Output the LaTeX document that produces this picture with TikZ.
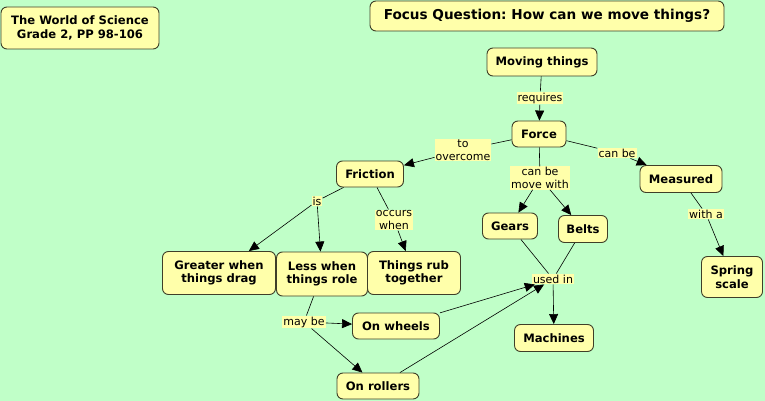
\documentclass[tikz,border=0pt]{standalone}
\usepackage{fontspec}
\setmainfont{DejaVu Sans}
\usetikzlibrary{arrows.meta}
\definecolor{MapGreen} {HTML}{C0FFC8}
\definecolor{MapYellow}{HTML}{FFFFAA}
\definecolor{MapEdge}  {HTML}{3F3F28}
\frenchspacing

\begin{document}
\begin{tikzpicture}[x=1pt,y=-1pt,
  concept/.style={draw=MapEdge,fill=MapYellow,rounded corners=6pt,
    line width=0.9pt,align=center,inner sep=0pt,
    font=\bfseries\fontsize{11.6}{13.5}\selectfont},
  boxsize/.style 2 args={minimum width=#1pt,minimum height=#2pt},
  linkword/.style={fill=MapYellow,inner sep=1pt,align=center,
    font=\fontsize{11}{12.5}\selectfont},
  link/.style={draw=black,line width=0.6pt},
  linkarrow/.style={link,-{Triangle[length=10pt,width=9pt]}}]
  % Background
  \fill[MapGreen] (0,0) rectangle (765,401);
  \useasboundingbox (0,0) rectangle (765,401);
  % Header boxes
  \node[concept,boxsize={158}{42}] (world) at (80,28)
    {The World of Science\\Grade 2, PP 98-106};
  \node[concept,boxsize={354}{30},
    font=\bfseries\fontsize{13.6}{15}\selectfont] (focus) at (547,16)
    {Focus Question: How can we move things?};
  % Concepts
  \node[concept,boxsize={110}{28}] (moving) at (542,62) {Moving things};
  \node[concept,boxsize={54}{26}] (force) at (539,134) {Force};
  \node[concept,boxsize={67}{26}] (friction) at (370,174) {Friction};
  \node[concept,boxsize={82}{27}] (measured) at (681,179) {Measured};
  \node[concept,boxsize={61}{41}] (spring) at (732,277) {Spring\\scale};
  \node[concept,boxsize={113}{43}] (greater) at (219,273)
    {Greater when\\things drag};
  \node[concept,boxsize={91}{44}] (less) at (322,274)
    {Less when\\things role};
  \node[concept,boxsize={93}{43}] (rub) at (414,273)
    {Things rub\\together};
  \node[concept,boxsize={55}{26}] (gears) at (510,226) {Gears};
  \node[concept,boxsize={49}{27}] (belts) at (583,229) {Belts};
  \node[concept,boxsize={79}{27}] (machines) at (554,338) {Machines};
  \node[concept,boxsize={87}{26}] (wheels) at (396,326) {On wheels};
  \node[concept,boxsize={82}{26}] (rollers) at (378,386) {On rollers};
  % Linking phrases
  \node[linkword] (requires) at (540,98) {requires};
  \node[linkword] (overcome) at (463,150) {to\\overcome};
  \node[linkword] (canbe) at (617,153) {can be};
  \node[linkword] (movewith) at (540,178) {can be\\move with};
  \node[linkword] (witha) at (706,214) {with a};
  \node[linkword] (is) at (317,201) {is};
  \node[linkword] (occurs) at (394,220) {occurs\\when};
  \node[linkword] (usedin) at (553,279) {used in};
  \node[linkword] (maybe) at (304,322) {may be};
  % Connectors
  \draw[link] (moving) -- (requires);
  \draw[linkarrow] (requires) -- (force);
  \draw[link] (force) -- (overcome);
  \draw[linkarrow] (overcome) -- (friction);
  \draw[link] (force) -- (canbe);
  \draw[linkarrow] (canbe) -- (measured);
  \draw[link] (force) -- (movewith);
  \draw[linkarrow] (movewith) -- (gears);
  \draw[linkarrow] (movewith) -- (belts);
  \draw[link] (measured) -- (witha);
  \draw[linkarrow] (witha) -- (spring);
  \draw[link] (friction) -- (is);
  \draw[linkarrow] (is) -- (greater);
  \draw[linkarrow] (is) -- (less);
  \draw[link] (friction) -- (occurs);
  \draw[linkarrow] (occurs) -- (rub);
  \draw[link] (gears) -- (usedin);
  \draw[link] (belts) -- (usedin);
  \draw[linkarrow] (usedin) -- (machines);
  \draw[linkarrow] (wheels) -- (usedin);
  \draw[linkarrow] (rollers) -- (usedin);
  \draw[link] (less) -- (maybe);
  \draw[linkarrow] (maybe) -- (wheels);
  \draw[linkarrow] (maybe) -- (rollers);
\end{tikzpicture}
\end{document}
